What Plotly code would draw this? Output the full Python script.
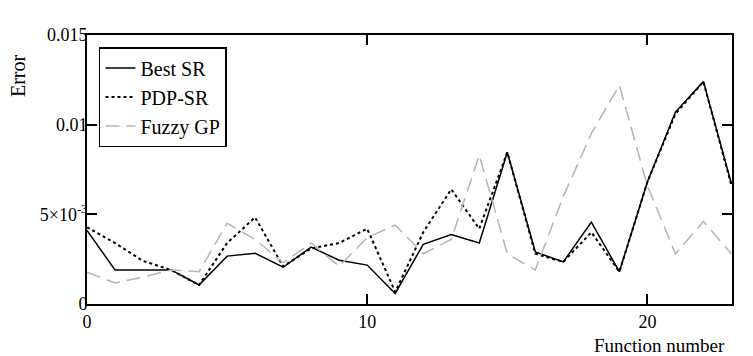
import plotly.graph_objects as go

func_number = list(range(24))
best_sr = [0.0041, 0.0019, 0.0019, 0.0019, 0.00106, 0.00267, 0.00283, 0.00205,
           0.00317, 0.00244, 0.00217, 0.00059, 0.00333, 0.00387, 0.0034, 0.00846,
           0.0029, 0.00235, 0.00457, 0.0018, 0.0068, 0.0107, 0.0124, 0.0067]
pdp_sr = [0.00428, 0.0034, 0.0024, 0.0019, 0.00106, 0.0034, 0.00483, 0.0021,
          0.0031, 0.0034, 0.0042, 0.00067, 0.0040, 0.0064, 0.0042, 0.00846,
          0.0028, 0.00235, 0.0040, 0.0018, 0.0068, 0.0106, 0.0124, 0.0066]
fuzzy_gp = [0.00178, 0.00117, 0.0015, 0.0019, 0.0018, 0.0045, 0.0036, 0.0023,
            0.0034, 0.0021, 0.0037, 0.0044, 0.0028, 0.0036, 0.0083, 0.0028,
            0.0019, 0.006, 0.0095, 0.0122, 0.0066, 0.0028, 0.0046, 0.0028]

x_ticks = [0, 10, 20]
y_ticks = [0, 0.005, 0.01, 0.015]
y_ticktext = ["0", "5×10<sup>-3</sup>", "0.01", "0.015"]

FONT = "Liberation Serif, Times New Roman, serif"

fig = go.Figure()
fig.add_trace(go.Scatter(x=func_number, y=best_sr, mode="lines", name="Best SR",
                         line=dict(color="black", width=1.5)))
fig.add_trace(go.Scatter(x=func_number, y=pdp_sr, mode="lines", name="PDP-SR",
                         line=dict(color="black", width=2, dash="dot")))
fig.add_trace(go.Scatter(x=func_number, y=fuzzy_gp, mode="lines", name="Fuzzy GP",
                         line=dict(color="#b4b4b4", width=1.5, dash="14px,7px")))

fig.update_layout(
    width=753, height=356,
    margin=dict(l=87, r=21, t=35, b=52),
    paper_bgcolor="white", plot_bgcolor="white",
    font=dict(family=FONT, size=18, color="black"),
    showlegend=True,
    legend=dict(x=0.0186, y=0.955, xanchor="left", yanchor="top",
                bgcolor="white", bordercolor="black", borderwidth=1.5,
                font=dict(family=FONT, size=20, color="black"),
                tracegroupgap=0, itemwidth=30),
    xaxis=dict(range=[0, 23.02], tickvals=x_ticks, ticks="inside", ticklen=10,
               tickwidth=1.5, tickcolor="black", showline=True, linecolor="black",
               linewidth=2, mirror="allticks", showgrid=False, zeroline=False,
               tickfont=dict(family=FONT, size=18, color="black")),
    yaxis=dict(range=[0, 0.015], tickvals=y_ticks, ticktext=y_ticktext,
               ticks="inside", ticklen=10, tickwidth=1.5, tickcolor="black",
               showline=True, linecolor="black", linewidth=2, mirror="allticks",
               showgrid=False, zeroline=False, ticklabelstandoff=-6,
               tickfont=dict(family=FONT, size=18, color="black")),
    annotations=[
        dict(text="Function number", xref="paper", yref="paper",
             x=0.992, y=-0.153, xanchor="right", yanchor="middle",
             showarrow=False, font=dict(family=FONT, size=19, color="black")),
        dict(text="Error", xref="paper", yref="paper", textangle=-90,
             x=-0.107, y=0.851, xanchor="center", yanchor="middle",
             showarrow=False, font=dict(family=FONT, size=20, color="black")),
    ],
)

fig.write_html("out.html", config={"displayModeBar": False},
               post_script="document.body.style.margin='0';document.body.style.overflow='hidden';")
